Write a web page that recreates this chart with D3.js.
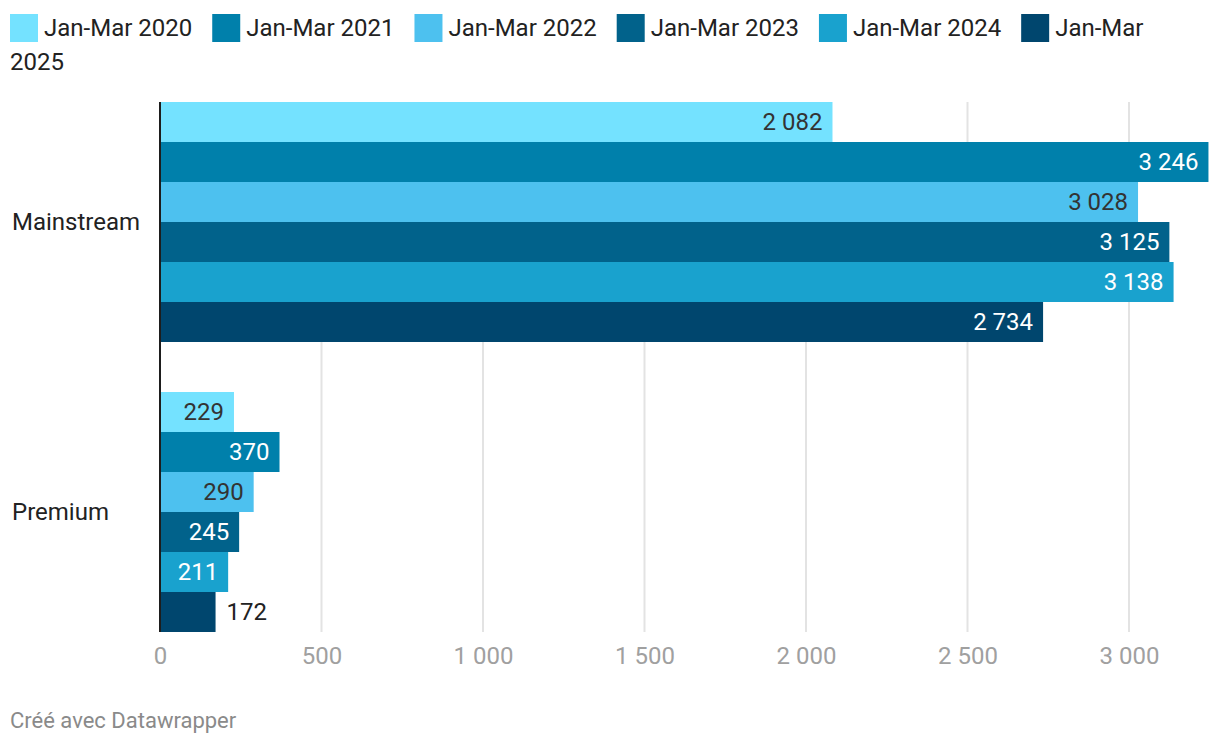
<!DOCTYPE html>
<html>
<head>
<meta charset="utf-8">
<script src="https://cdn.jsdelivr.net/npm/d3@7"></script>
<style>
  body { margin: 0; background: #fff; font-family: Roboto, "Noto Sans", sans-serif; }
  svg text { font-family: Roboto, "Noto Sans", sans-serif; }
</style>
</head>
<body>
<svg id="chart"></svg>
<script>
const categories = ["Mainstream", "Premium"];
const seriesNames = ["Jan-Mar 2020", "Jan-Mar 2021", "Jan-Mar 2022", "Jan-Mar 2023", "Jan-Mar 2024", "Jan-Mar 2025"];
const mainstream = [2082, 3246, 3028, 3125, 3138, 2734];
const premium = [229, 370, 290, 245, 211, 172];
const colors = ["#74e2ff", "#0080ab", "#4dc1ef", "#01628b", "#19a2ce", "#00466e"];
const darkLabel = [true, false, true, false, false, false];
const xTicks = [0, 500, 1000, 1500, 2000, 2500, 3000];

const width = 1220, height = 746;
const margin = { top: 102, left: 160, bottom: 114, right: 12 };

const svg = d3.select("#chart").attr("width", width).attr("height", height);

const fmt = d3.formatLocale({ decimal: ",", thousands: " ", grouping: [3], currency: ["", ""] }).format(",d");

const x = d3.scaleLinear().domain([0, 3000]).range([margin.left, margin.left + 969]);
const y = d3.scaleBand().domain(categories).range([margin.top, height - margin.bottom]).paddingInner(50 / 290);
const ySub = d3.scaleBand().domain(seriesNames).range([0, y.bandwidth()]);

const data = categories.flatMap((c, i) => {
  const vals = i === 0 ? mainstream : premium;
  return seriesNames.map((s, j) => ({ cat: c, series: s, value: vals[j], idx: j }));
});

// grid lines
svg.append("g")
  .selectAll("line")
  .data(xTicks.filter(t => t > 0))
  .join("line")
  .attr("x1", d => x(d)).attr("x2", d => x(d))
  .attr("y1", margin.top).attr("y2", height - margin.bottom)
  .attr("stroke", "#e3e3e3").attr("stroke-width", 2);

// axis tick labels
const xAxis = svg.append("g")
  .attr("transform", `translate(0,${height - margin.bottom})`)
  .call(d3.axisBottom(x).tickValues(xTicks).tickFormat(fmt).tickSize(0).tickPadding(15));
xAxis.select(".domain").remove();
xAxis.selectAll("text").attr("font-size", 24).attr("fill", "#a0a0a0").attr("font-family", "Roboto");

// bars
const bars = svg.append("g");
bars.selectAll("rect")
  .data(data)
  .join("rect")
  .attr("x", x(0))
  .attr("y", d => y(d.cat) + ySub(d.series))
  .attr("width", d => x(d.value) - x(0))
  .attr("height", ySub.bandwidth())
  .attr("fill", d => colors[d.idx]);

// value labels
svg.append("g")
  .selectAll("text")
  .data(data)
  .join("text")
  .each(function (d) {
    const w = x(d.value) - x(0);
    const inside = w > 64;
    d3.select(this)
      .attr("x", inside ? x(d.value) - 10 : x(d.value) + 11)
      .attr("text-anchor", inside ? "end" : "start")
      .attr("fill", inside ? (darkLabel[d.idx] ? "#333" : "#fff") : "#222");
  })
  .attr("y", d => y(d.cat) + ySub(d.series) + ySub.bandwidth() / 2)
  .attr("dy", "0.32em")
  .attr("font-size", 24)
  .text(d => fmt(d.value));

// vertical baseline
svg.append("line")
  .attr("x1", x(0)).attr("x2", x(0))
  .attr("y1", margin.top).attr("y2", height - margin.bottom)
  .attr("stroke", "#1d1d1d").attr("stroke-width", 2);

// category labels
svg.append("g")
  .selectAll("text")
  .data(categories)
  .join("text")
  .attr("x", 12)
  .attr("y", d => y(d) + y.bandwidth() / 2)
  .attr("dy", "0.32em")
  .attr("font-size", 24)
  .attr("fill", "#222")
  .text(d => d);

// legend
const legend = svg.append("g");
let lx = 10, ly = 14;
const maxX = 1200;
seriesNames.forEach((s, i) => {
  legend.append("rect").attr("x", lx).attr("y", ly).attr("width", 28).attr("height", 28).attr("fill", colors[i]);
  const t = legend.append("text").attr("x", lx + 34).attr("y", ly + 22).attr("font-size", 24).attr("fill", "#222").text(s);
  const tw = t.node().getComputedTextLength();
  if (lx + 34 + tw > maxX) {
    // wrap the remaining words onto the next line
    const words = s.split(" ");
    t.text(words[0]);
    legend.append("text").attr("x", 10).attr("y", ly + 22 + 34).attr("font-size", 24).attr("fill", "#222").text(words.slice(1).join(" "));
  }
  lx += 34 + tw + 20;
});

// footer
svg.append("text")
  .attr("x", 10).attr("y", 728)
  .attr("font-size", 22).attr("fill", "#8a8a8a")
  .text("Créé avec Datawrapper");
</script>
</body>
</html>
